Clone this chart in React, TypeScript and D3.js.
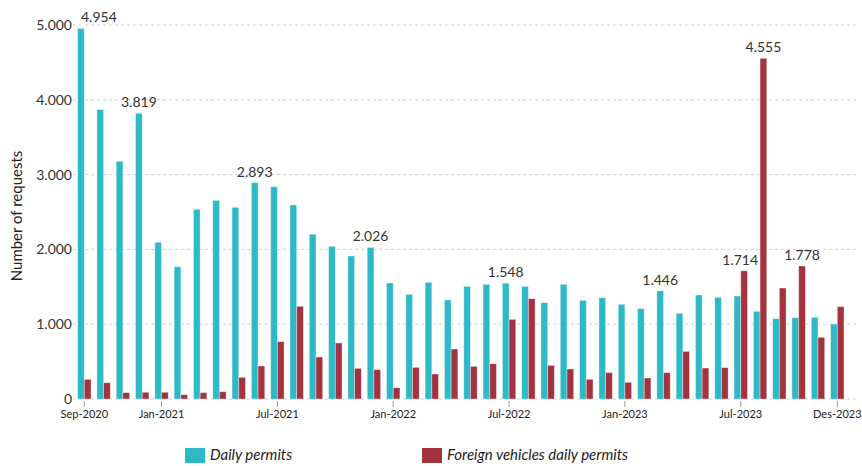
import React, { useEffect, useRef } from "react";
import * as d3 from "d3";

const months = [
  "2020-09", "2020-10", "2020-11", "2020-12",
  "2021-01", "2021-02", "2021-03", "2021-04", "2021-05", "2021-06",
  "2021-07", "2021-08", "2021-09", "2021-10", "2021-11", "2021-12",
  "2022-01", "2022-02", "2022-03", "2022-04", "2022-05", "2022-06",
  "2022-07", "2022-08", "2022-09", "2022-10", "2022-11", "2022-12",
  "2023-01", "2023-02", "2023-03", "2023-04", "2023-05", "2023-06",
  "2023-07", "2023-08", "2023-09", "2023-10", "2023-11", "2023-12",
];

const dailyPermits = [
  4954, 3870, 3178, 3819,
  2095, 1769, 2536, 2656, 2563, 2893,
  2838, 2594, 2202, 2041, 1912, 2026,
  1551, 1399, 1560, 1324, 1506, 1533,
  1548, 1506, 1288, 1533, 1319, 1355,
  1266, 1208, 1446, 1145, 1390, 1359,
  1377, 1172, 1074, 1087, 1092, 1003,
];

const foreignPermits = [
  263, 218, 85, 90,
  90, 58, 85, 98, 290, 441,
  766, 1239, 561, 749, 410, 392,
  151, 423, 334, 668, 437, 472,
  1065, 1341, 450, 401, 263, 352,
  223, 281, 352, 637, 414, 419,
  1714, 4555, 1484, 1778, 825, 1234,
];

// months whose bars carry a value label, per series
const dailyLabelled = ["2020-09", "2020-12", "2021-06", "2021-12", "2022-07", "2023-03"];
const foreignLabelled = ["2023-07", "2023-08", "2023-10"];

const tickMonths = ["2020-09", "2021-01", "2021-07", "2022-01", "2022-07", "2023-01", "2023-07", "2023-12"];
const tickLabels = ["Sep-2020", "Jan-2021", "Jul-2021", "Jan-2022", "Jul-2022", "Jan-2023", "Jul-2023", "Des-2023"];

const yTicks = [0, 1000, 2000, 3000, 4000, 5000];

const seriesNames = ["Daily permits", "Foreign vehicles daily permits"];
const seriesColors = ["#2eb9c7", "#a3333f"];

const W = 862;
const H = 466;
const FONT = "Lato, 'Open Sans', sans-serif";

const fmt = (v: number) => d3.format(",")(v).replace(/,/g, ".");

export default function App() {
  const ref = useRef<SVGSVGElement | null>(null);

  useEffect(() => {
    const svg = d3.select(ref.current);
    svg.selectAll("*").remove();

    const x = d3.scalePoint<string>().domain(months).range([84.3, 837.3]);
    const groupW = 13.4;
    const xs = d3.scaleBand<number>().domain([0, 1]).range([-groupW / 2, groupW / 2]).padding(0);
    const y = d3.scaleLinear().domain([0, 5000]).range([399, 25]);

    const gridLeft = 73;
    const gridRight = 857;

    // horizontal gridlines
    svg.append("g")
      .selectAll("line")
      .data(yTicks)
      .join("line")
      .attr("x1", gridLeft)
      .attr("x2", gridRight)
      .attr("y1", (d) => y(d))
      .attr("y2", (d) => y(d))
      .attr("stroke", "#cfcfcf")
      .attr("stroke-width", 1)
      .attr("stroke-dasharray", "3,3");

    // y tick labels
    svg.append("g")
      .selectAll("text")
      .data(yTicks)
      .join("text")
      .attr("x", 72)
      .attr("y", (d) => y(d))
      .attr("dy", "0.36em")
      .attr("text-anchor", "end")
      .attr("font-family", FONT)
      .attr("font-size", 14)
      .attr("fill", "#333")
      .text((d) => fmt(d));

    // y axis title
    svg.append("text")
      .attr("transform", `translate(22,${y(2500) + 4}) rotate(-90)`)
      .attr("text-anchor", "middle")
      .attr("font-family", FONT)
      .attr("font-size", 15)
      .attr("fill", "#222")
      .text("Number of requests");

    // bars
    const series = [dailyPermits, foreignPermits];
    type Bar = { m: string; s: number; v: number; x0: number; x1: number; top: number };
    const bars: Bar[] = [];
    series.forEach((vals, s) => {
      vals.forEach((v, i) => {
        const m = months[i];
        const x0 = (x(m) as number) + (xs(s) as number);
        bars.push({ m, s, v, x0, x1: x0 + xs.bandwidth(), top: y(v) });
      });
    });

    svg.append("g")
      .selectAll("rect")
      .data(bars)
      .join("rect")
      .attr("x", (d) => d.x0)
      .attr("y", (d) => d.top)
      .attr("width", (d) => d.x1 - d.x0)
      .attr("height", (d) => y(0) - d.top)
      .attr("fill", (d) => seriesColors[d.s])
      .attr("stroke", "#ffffff")
      .attr("stroke-opacity", 0.45)
      .attr("stroke-width", 0.8);

    // x ticks and labels
    const xt = svg.append("g");
    tickMonths.forEach((m, i) => {
      const cx = x(m) as number;
      xt.append("line")
        .attr("x1", cx).attr("x2", cx)
        .attr("y1", 401).attr("y2", 407)
        .attr("stroke", "#999").attr("stroke-width", 1);
      xt.append("text")
        .attr("x", cx)
        .attr("y", 418)
        .attr("text-anchor", "middle")
        .attr("font-family", FONT)
        .attr("font-size", 11)
        .attr("fill", "#222")
        .text(tickLabels[i]);
    });

    // value labels, nudged away from the plot edge and from taller neighbours
    const labelled = bars.filter(
      (b) => (b.s === 0 && dailyLabelled.includes(b.m)) || (b.s === 1 && foreignLabelled.includes(b.m))
    );
    const lg = svg.append("g");
    labelled.forEach((b) => {
      const t = lg.append("text")
        .attr("y", b.top - 6)
        .attr("text-anchor", "middle")
        .attr("font-family", FONT)
        .attr("font-size", 14)
        .attr("fill", "#333")
        .text(fmt(b.v));
      const w = (t.node() as SVGTextElement).getComputedTextLength();
      let cx = (b.x0 + b.x1) / 2;
      const baseline = b.top - 6;
      if (cx - w / 2 < gridLeft + 8) cx = gridLeft + 8 + w / 2;
      const blockers = bars.filter((o) => o.x0 > b.x1 - 0.5 && o.top < baseline && o.x0 < cx + w / 2 + 2);
      if (blockers.length) {
        const lim = d3.min(blockers, (o) => o.x0) as number;
        cx = Math.min(cx, lim - 2 - w / 2);
      }
      t.attr("x", cx);
    });

    // legend
    const legendItems = [
      { x: 185, name: seriesNames[0], color: seriesColors[0] },
      { x: 422, name: seriesNames[1], color: seriesColors[1] },
    ];
    const lgd = svg.append("g");
    legendItems.forEach((it) => {
      lgd.append("rect")
        .attr("x", it.x).attr("y", 448)
        .attr("width", 20).attr("height", 15)
        .attr("fill", it.color);
      lgd.append("text")
        .attr("x", it.x + 25)
        .attr("y", 460)
        .attr("font-family", FONT)
        .attr("font-style", "italic")
        .attr("font-size", 15)
        .attr("fill", "#222")
        .text(it.name);
    });
  }, []);

  return (
    <svg
      ref={ref}
      width={W}
      height={H}
      style={{ position: "absolute", left: 0, top: 0, background: "#fff" }}
    />
  );
}
